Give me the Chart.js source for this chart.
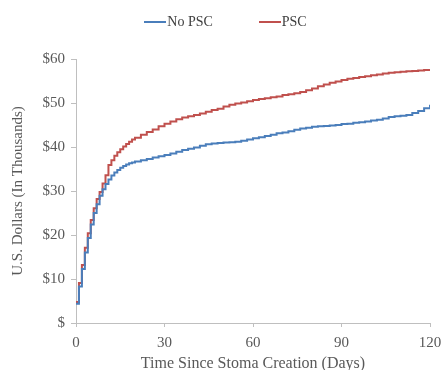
<!DOCTYPE html>
<html>
<head>
<meta charset="utf-8">
<script src="https://cdn.jsdelivr.net/npm/chart.js@4"></script>
<style>
  body { margin: 0; background: #fff; }
  #wrap { position: relative; width: 441px; height: 370px; }
  #legend {
    position: absolute; top: 14px; left: 0; width: 441px;
    display: flex; justify-content: center; gap: 46px;
    font-family: "Liberation Serif", serif; font-size: 14px; color: #404040;
    padding-left: 10px; box-sizing: border-box;
  }
  #legend span.item { display: flex; align-items: center; }
  #legend span.swatch { display: inline-block; width: 22px; height: 2px; margin-right: 1px; }
</style>
</head>
<body>
<div id="wrap">
  <div id="legend">
    <span class="item"><span class="swatch" style="background:#4A7EBB"></span>No PSC</span>
    <span class="item"><span class="swatch" style="background:#C0504D"></span>PSC</span>
  </div>
  <canvas id="costChart" width="441" height="370"></canvas>
</div>
<script>
// days since stoma creation (daily early on, then every 2 days)
const days = [0, 1, 2, 3, 4, 5, 6, 7, 8, 9, 10, 11, 12, 13, 14, 15, 16, 17, 18, 19, 20,
  22, 24, 26, 28, 30, 32, 34, 36, 38, 40, 42, 44, 46, 48, 50, 52, 54, 56, 58, 60,
  62, 64, 66, 68, 70, 72, 74, 76, 78, 80, 82, 84, 86, 88, 90, 92, 94, 96, 98, 100,
  102, 104, 106, 108, 110, 112, 114, 116, 118, 120];

// cumulative cost, thousands of dollars
const noPsc = [4.4, 8.3, 12.3, 16.0, 19.3, 22.4, 25.0, 27.0, 28.9, 30.4, 31.6, 32.6, 33.5, 34.2, 34.8, 35.3, 35.7, 36.0, 36.3, 36.5, 36.7,
  37.0, 37.3, 37.6, 37.9, 38.2, 38.5, 38.9, 39.3, 39.6, 39.9, 40.3, 40.6, 40.8, 40.9, 41.0, 41.1, 41.2, 41.4, 41.7, 42.0,
  42.2, 42.5, 42.8, 43.1, 43.3, 43.6, 43.9, 44.2, 44.4, 44.6, 44.7, 44.8, 44.9, 45.0, 45.2, 45.3, 45.5, 45.6, 45.8, 46.0,
  46.2, 46.5, 46.8, 47.0, 47.1, 47.3, 47.7, 48.2, 48.8, 49.6];

const psc = [4.8, 9.1, 13.2, 17.1, 20.4, 23.4, 26.1, 28.2, 29.8, 31.7, 33.6, 35.9, 37.0, 38.0, 38.8, 39.5, 40.1, 40.7, 41.2, 41.7, 42.1,
  42.8, 43.4, 44.0, 44.7, 45.3, 45.8, 46.3, 46.7, 47.0, 47.3, 47.6, 48.0, 48.4, 48.7, 49.2, 49.6, 49.9, 50.1, 50.4, 50.7,
  50.9, 51.1, 51.3, 51.5, 51.8, 52.0, 52.2, 52.5, 52.9, 53.3, 53.8, 54.2, 54.6, 54.9, 55.2, 55.5, 55.7, 55.9, 56.1, 56.3,
  56.5, 56.7, 56.9, 57.0, 57.1, 57.2, 57.3, 57.4, 57.5, 57.6];

const xTicks = [0, 30, 60, 90, 120];

const toPoints = (ys) => days.map((d, i) => ({ x: d, y: ys[i] }));

const axisGrey = '#BFBFBF';
const textGrey = '#595959';
const serif = '"Liberation Serif", serif';

new Chart(document.getElementById('costChart').getContext('2d'), {
  type: 'line',
  data: {
    datasets: [
      { label: 'No PSC', data: toPoints(noPsc), borderColor: '#4A7EBB', backgroundColor: '#4A7EBB',
        borderWidth: 2, pointRadius: 0, stepped: 'before' },
      { label: 'PSC', data: toPoints(psc), borderColor: '#C0504D', backgroundColor: '#C0504D',
        borderWidth: 2, pointRadius: 0, stepped: 'before' }
    ]
  },
  options: {
    responsive: false,
    animation: false,
    layout: { padding: { top: 59, right: 11, left: 0, bottom: 0 } },
    plugins: { legend: { display: false }, tooltip: { enabled: false } },
    scales: {
      x: {
        type: 'linear', min: 0, max: 120,
        afterBuildTicks: (s) => { s.ticks = xTicks.map(v => ({ value: v })); },
        afterFit: (s) => { s.height = 47; s.paddingLeft = 0; s.paddingRight = 0; },
        border: { color: axisGrey, width: 1 },
        grid: { drawOnChartArea: false, color: axisGrey, tickLength: 4 },
        ticks: { color: textGrey, font: { family: serif, size: 15 }, padding: 7, maxRotation: 0 },
        title: { display: true, text: 'Time Since Stoma Creation (Days)', color: textGrey,
          font: { family: serif, size: 16 }, padding: { top: 0, bottom: -3 } }
      },
      y: {
        min: 0, max: 60,
        afterFit: (s) => { s.width = 76; },
        border: { color: axisGrey, width: 1 },
        grid: { drawOnChartArea: false, color: axisGrey, tickLength: 5 },
        ticks: { stepSize: 10, color: textGrey, font: { family: serif, size: 15 }, padding: 6,
          callback: (v) => v === 0 ? '$' : '$' + v },
        title: { display: true, text: 'U.S. Dollars (In Thousands)', color: textGrey,
          font: { family: serif, size: 15 }, padding: { top: 9, bottom: 0 } }
      }
    }
  }
});
</script>
</body>
</html>
